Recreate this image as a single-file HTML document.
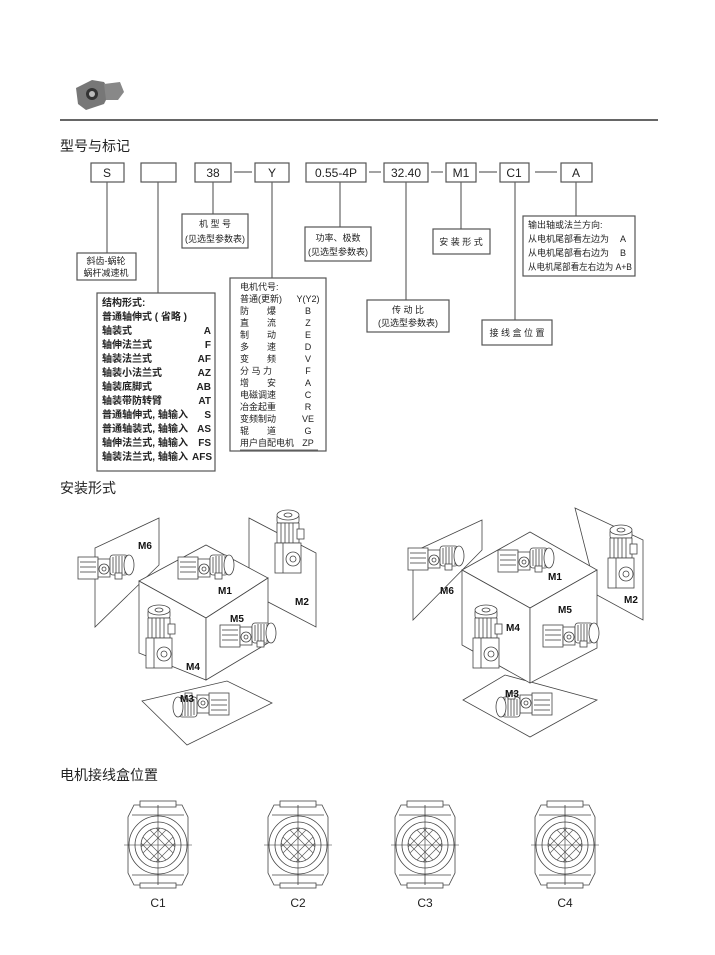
<!DOCTYPE html>
<html><head><meta charset="utf-8"><style>
body{margin:0;background:#fff}
svg{display:block}
text{font-family:"Liberation Sans","Noto Sans CJK SC",sans-serif;fill:#222}
.b{fill:#fff;stroke:#555;stroke-width:1.2}
.l{stroke:#666;stroke-width:1.2;fill:none}
.t{font-size:10px}
.s{font-size:9px}
.k{font-size:10px;font-weight:bold;fill:#111}
.m{fill:#fff;stroke:#444;stroke-width:0.8}
.ml{font-size:10px;font-weight:bold;fill:#111}
.p{fill:none;stroke:#444;stroke-width:0.8}
</style></head><body>
<svg width="715" height="955" viewBox="0 0 715 955">
<defs>
<g id="mot">
  <rect class="m" x="-22" y="-10" width="20" height="22"/>
  <line class="p" x1="-20" y1="-5" x2="-4" y2="-5"/><line class="p" x1="-20" y1="0" x2="-4" y2="0"/><line class="p" x1="-20" y1="5" x2="-4" y2="5"/>
  <rect class="m" x="-2" y="-8" width="12" height="18"/>
  <circle class="m" cx="4" cy="2" r="5"/><circle class="m" cx="4" cy="2" r="2"/>
  <rect class="m" x="10" y="-12" width="18" height="20" rx="3"/>
  <line class="p" x1="13" y1="-10" x2="13" y2="6"/><line class="p" x1="16" y1="-11" x2="16" y2="7"/><line class="p" x1="19" y1="-11" x2="19" y2="7"/><line class="p" x1="22" y1="-11" x2="22" y2="7"/><line class="p" x1="25" y1="-11" x2="25" y2="7"/>
  <ellipse class="m" cx="29" cy="-2" rx="5" ry="10"/>
  <rect class="m" x="15" y="6" width="7" height="6"/>
</g>
<g id="vmot">
  <rect class="m" x="-10" y="-30" width="22" height="8" rx="2"/>
  <ellipse class="m" cx="1" cy="-30" rx="11" ry="5"/><ellipse class="m" cx="1" cy="-30" rx="4" ry="2"/>
  <rect class="m" x="-10" y="-22" width="22" height="20"/>
  <line class="p" x1="-6" y1="-22" x2="-6" y2="-2"/><line class="p" x1="-2" y1="-22" x2="-2" y2="-2"/><line class="p" x1="2" y1="-22" x2="2" y2="-2"/><line class="p" x1="6" y1="-22" x2="6" y2="-2"/>
  <rect class="m" x="10" y="-16" width="7" height="10"/>
  <rect class="m" x="-12" y="-2" width="26" height="30"/>
  <circle class="m" cx="6" cy="14" r="7"/><circle class="m" cx="6" cy="14" r="3"/>
  <line class="p" x1="-4" y1="-2" x2="-4" y2="28"/>
</g>
<g id="lid">
  <path class="m" d="M-24,-40 L24,-40 L30,-28 L30,28 L24,40 L-24,40 L-30,28 L-30,-28Z"/>
  <line class="p" x1="-26" y1="30" x2="26" y2="30"/>
  <line class="p" x1="-26" y1="-30" x2="26" y2="-30"/>
  <rect class="m" x="-18" y="-44" width="36" height="6"/>
  <rect class="m" x="-18" y="38" width="36" height="5"/>
  <line class="p" x1="0" y1="-40" x2="0" y2="40"/>
  <circle class="m" cx="0" cy="0" r="29"/><circle class="m" cx="0" cy="0" r="23"/><circle class="m" cx="0" cy="0" r="17"/>
  <g stroke="#555" stroke-width="0.6">
  <line x1="-15" y1="-8" x2="8" y2="15"/><line x1="-8" y1="-15" x2="15" y2="8"/><line x1="-2" y1="-17" x2="17" y2="2"/><line x1="-17" y1="-2" x2="2" y2="17"/>
  <line x1="15" y1="-8" x2="-8" y2="15"/><line x1="8" y1="-15" x2="-15" y2="8"/><line x1="2" y1="-17" x2="-17" y2="2"/><line x1="17" y1="-2" x2="-2" y2="17"/>
  <line x1="-34" y1="0" x2="34" y2="0" stroke="#333"/><line x1="0" y1="-30" x2="0" y2="30" stroke="#333"/></g>
</g>
</defs>

<g>
<path d="M76 88 L92 80 L104 82 L110 92 L104 104 L86 110 L78 104Z" fill="#777"/>
<path d="M104 84 L120 82 L124 92 L118 100 L106 100Z" fill="#888"/>
<circle cx="92" cy="94" r="6" fill="#333"/><circle cx="92" cy="94" r="3" fill="#bbb"/>
</g>
<line x1="60" y1="120" x2="658" y2="120" stroke="#333" stroke-width="1.6"/>

<text x="60" y="151" style="font-size:14px">型号与标记</text>

<rect class="b" x="91" y="163" width="33" height="19"/><text x="107" y="177" text-anchor="middle" style="font-size:12px">S</text>
<rect class="b" x="141" y="163" width="35" height="19"/>
<rect class="b" x="195" y="163" width="36" height="19"/><text x="213" y="177" text-anchor="middle" style="font-size:12px">38</text>
<rect class="b" x="255" y="163" width="34" height="19"/><text x="272" y="177" text-anchor="middle" style="font-size:12px">Y</text>
<rect class="b" x="306" y="163" width="60" height="19"/><text x="336" y="177" text-anchor="middle" style="font-size:12px">0.55-4P</text>
<rect class="b" x="384" y="163" width="44" height="19"/><text x="406" y="177" text-anchor="middle" style="font-size:12px">32.40</text>
<rect class="b" x="446" y="163" width="30" height="19"/><text x="461" y="177" text-anchor="middle" style="font-size:12px">M1</text>
<rect class="b" x="500" y="163" width="29" height="19"/><text x="514" y="177" text-anchor="middle" style="font-size:12px">C1</text>
<rect class="b" x="561" y="163" width="31" height="19"/><text x="576" y="177" text-anchor="middle" style="font-size:12px">A</text>
<g class="l">
<line x1="234" y1="172" x2="252" y2="172"/><line x1="369" y1="172" x2="381" y2="172"/><line x1="431" y1="172" x2="443" y2="172"/><line x1="479" y1="172" x2="497" y2="172"/><line x1="535" y1="172" x2="557" y2="172"/>
<line x1="107" y1="182" x2="107" y2="253"/>
<line x1="158" y1="182" x2="158" y2="293"/>
<line x1="213" y1="182" x2="213" y2="214"/>
<line x1="272" y1="182" x2="272" y2="278"/>
<line x1="340" y1="182" x2="340" y2="227"/>
<line x1="406" y1="182" x2="406" y2="300"/>
<line x1="461" y1="182" x2="461" y2="229"/>
<line x1="515" y1="182" x2="515" y2="320"/>
<line x1="576" y1="182" x2="576" y2="216"/>
</g>

<rect class="b" x="77" y="253" width="59" height="27"/>
<text x="106" y="264" text-anchor="middle" class="s">斜齿-蜗轮</text>
<text x="106" y="276" text-anchor="middle" class="s">蜗杆减速机</text>

<rect class="b" x="182" y="214" width="66" height="34"/>
<text x="215" y="227" text-anchor="middle" class="s">机 型 号</text>
<text x="215" y="242" text-anchor="middle" class="s">(见选型参数表)</text>

<rect class="b" x="305" y="227" width="66" height="34"/>
<text x="338" y="241" text-anchor="middle" class="s">功率、极数</text>
<text x="338" y="255" text-anchor="middle" class="s">(见选型参数表)</text>

<rect class="b" x="367" y="300" width="82" height="32"/>
<text x="408" y="313" text-anchor="middle" class="s">传 动 比</text>
<text x="408" y="326" text-anchor="middle" class="s">(见选型参数表)</text>

<rect class="b" x="433" y="229" width="57" height="25"/>
<text x="461" y="245" text-anchor="middle" class="s">安 装 形 式</text>

<rect class="b" x="482" y="320" width="70" height="25"/>
<text x="517" y="336" text-anchor="middle" class="s">接 线 盒 位 置</text>

<rect class="b" x="523" y="216" width="112" height="60"/>
<text x="528" y="228" class="s">输出轴或法兰方向:</text>
<text x="528" y="242" class="s">从电机尾部看左边为</text><text x="620" y="242" class="s">A</text>
<text x="528" y="256" class="s">从电机尾部看右边为</text><text x="620" y="256" class="s">B</text>
<text x="528" y="270" class="s" textLength="104" lengthAdjust="spacingAndGlyphs">从电机尾部看左右边为 A+B</text>

<rect class="b" x="230" y="278" width="96" height="173"/>
<g class="s">
<text x="240" y="290">电机代号:</text>
<text x="240" y="302">普通(更新)</text><text x="308" y="302" text-anchor="middle">Y(Y2)</text>
<text x="240" y="314">防　　爆</text><text x="308" y="314" text-anchor="middle">B</text>
<text x="240" y="326">直　　流</text><text x="308" y="326" text-anchor="middle">Z</text>
<text x="240" y="338">制　　动</text><text x="308" y="338" text-anchor="middle">E</text>
<text x="240" y="350">多　　速</text><text x="308" y="350" text-anchor="middle">D</text>
<text x="240" y="362">变　　频</text><text x="308" y="362" text-anchor="middle">V</text>
<text x="240" y="374">分 马 力</text><text x="308" y="374" text-anchor="middle">F</text>
<text x="240" y="386">增　　安</text><text x="308" y="386" text-anchor="middle">A</text>
<text x="240" y="398">电磁调速</text><text x="308" y="398" text-anchor="middle">C</text>
<text x="240" y="410">冶金起重</text><text x="308" y="410" text-anchor="middle">R</text>
<text x="240" y="422">变频制动</text><text x="308" y="422" text-anchor="middle">VE</text>
<text x="240" y="434">辊　　道</text><text x="308" y="434" text-anchor="middle">G</text>
<text x="240" y="446">用户自配电机</text><text x="308" y="446" text-anchor="middle">ZP</text>
</g>
<line x1="240" y1="450" x2="318" y2="450" stroke="#666"/>

<rect class="b" x="97" y="293" width="118" height="178"/>
<g class="k">
<text x="102" y="306">结构形式:</text>
<text x="102" y="320">普通轴伸式 ( 省略 )</text>
<text x="102" y="334">轴装式</text><text x="211" y="334" text-anchor="end">A</text>
<text x="102" y="348">轴伸法兰式</text><text x="211" y="348" text-anchor="end">F</text>
<text x="102" y="362">轴装法兰式</text><text x="211" y="362" text-anchor="end">AF</text>
<text x="102" y="376">轴装小法兰式</text><text x="211" y="376" text-anchor="end">AZ</text>
<text x="102" y="390">轴装底脚式</text><text x="211" y="390" text-anchor="end">AB</text>
<text x="102" y="404">轴装带防转臂</text><text x="211" y="404" text-anchor="end">AT</text>
<text x="102" y="418" textLength="86" lengthAdjust="spacingAndGlyphs">普通轴伸式, 轴输入</text><text x="211" y="418" text-anchor="end">S</text>
<text x="102" y="432" textLength="86" lengthAdjust="spacingAndGlyphs">普通轴装式, 轴输入</text><text x="211" y="432" text-anchor="end">AS</text>
<text x="102" y="446" textLength="86" lengthAdjust="spacingAndGlyphs">轴伸法兰式, 轴输入</text><text x="211" y="446" text-anchor="end">FS</text>
<text x="102" y="460" textLength="86" lengthAdjust="spacingAndGlyphs">轴装法兰式, 轴输入</text><text x="212" y="460" text-anchor="end">AFS</text>
</g>

<text x="60" y="493" style="font-size:14px">安装形式</text>

<g>
<polygon class="p" points="95,548 159,518 159,565 95,627" />
<polygon class="p" points="249,518 316,553 316,627 249,592"/>
<polygon class="p" points="142,701 227,681 272,703 187,745"/>
<polygon class="m" points="139,581 206,545 268,578 206,618"/>
<polygon class="m" points="139,581 206,618 206,680 139,653"/>
<polygon class="m" points="206,618 268,578 268,643 206,680"/>
<use href="#mot" x="100" y="567"/>
<use href="#mot" x="200" y="567"/>
<use href="#vmot" x="287" y="545"/>
<use href="#vmot" x="158" y="640"/>
<use href="#mot" x="242" y="635"/>
<use href="#mot" x="207" y="705" transform="rotate(180 207 705)"/>
<text class="ml" x="138" y="549">M6</text>
<text class="ml" x="218" y="594">M1</text>
<text class="ml" x="295" y="605">M2</text>
<text class="ml" x="230" y="622">M5</text>
<text class="ml" x="186" y="670">M4</text>
<text class="ml" x="180" y="702">M3</text>
</g>

<g>
<polygon class="p" points="413,552 482,520 482,550 413,620" />
<polygon class="p" points="575,508 643,540 643,620 597,595"/>
<polygon class="p" points="463,700 505,675 597,700 530,737"/>
<polygon class="m" points="462,570 530,532 597,570 530,608"/>
<polygon class="m" points="462,570 530,608 530,683 462,645"/>
<polygon class="m" points="530,608 597,570 597,648 530,683"/>
<use href="#mot" x="430" y="558"/>
<use href="#mot" x="520" y="560"/>
<use href="#vmot" x="620" y="560"/>
<use href="#vmot" x="485" y="640"/>
<use href="#mot" x="565" y="635"/>
<use href="#mot" x="530" y="705" transform="rotate(180 530 705)"/>
<text class="ml" x="440" y="594">M6</text>
<text class="ml" x="548" y="580">M1</text>
<text class="ml" x="624" y="603">M2</text>
<text class="ml" x="558" y="613">M5</text>
<text class="ml" x="506" y="631">M4</text>
<text class="ml" x="505" y="697">M3</text>
</g>

<text x="60" y="780" style="font-size:14px">电机接线盒位置</text>

<use href="#lid" x="158" y="845"/>
<use href="#lid" x="298" y="845"/>
<use href="#lid" x="425" y="845"/>
<use href="#lid" x="565" y="845"/>
<text x="158" y="907" text-anchor="middle" style="font-size:12px">C1</text>
<text x="298" y="907" text-anchor="middle" style="font-size:12px">C2</text>
<text x="425" y="907" text-anchor="middle" style="font-size:12px">C3</text>
<text x="565" y="907" text-anchor="middle" style="font-size:12px">C4</text>
</svg>
</body></html>
